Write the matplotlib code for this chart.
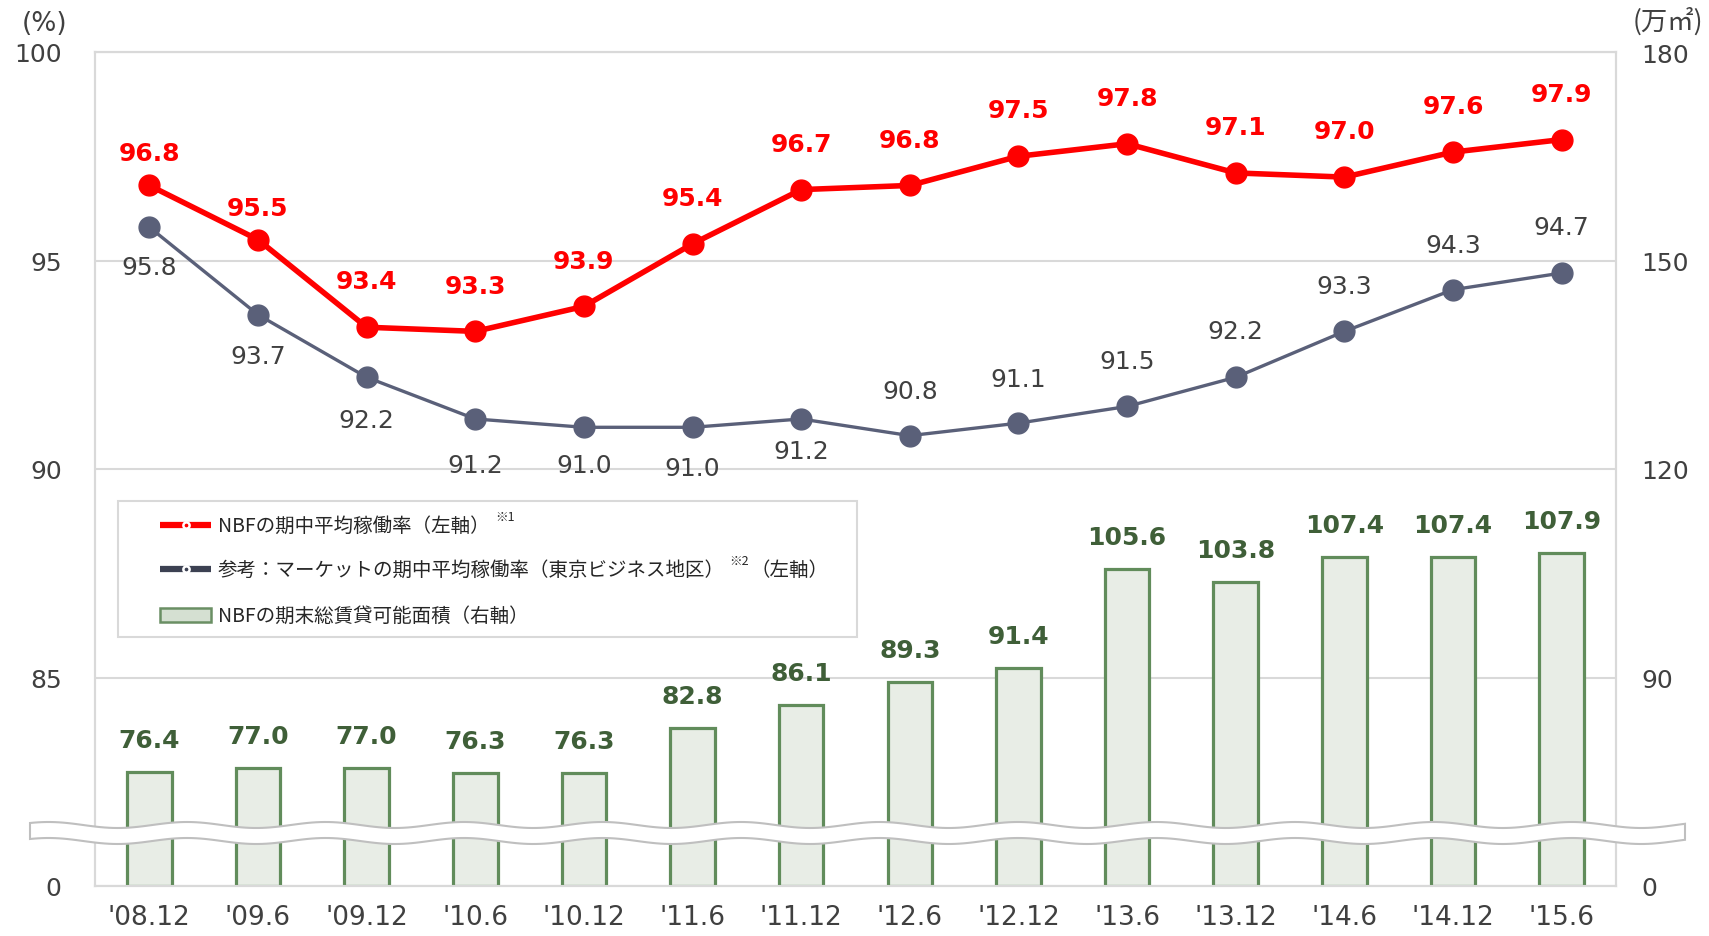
import numpy as np
import matplotlib
matplotlib.use('Agg')
import matplotlib.pyplot as plt
from matplotlib.patches import Rectangle, Polygon

plt.rcParams['font.family'] = ['DejaVu Sans', 'Noto Sans CJK JP']

# データ
periods = ["'08.12", "'09.6", "'09.12", "'10.6", "'10.12", "'11.6", "'11.12",
           "'12.6", "'12.12", "'13.6", "'13.12", "'14.6", "'14.12", "'15.6"]
nbf_rate = [96.8, 95.5, 93.4, 93.3, 93.9, 95.4, 96.7, 96.8, 97.5, 97.8, 97.1, 97.0, 97.6, 97.9]
market_rate = [95.8, 93.7, 92.2, 91.2, 91.0, 91.0, 91.2, 90.8, 91.1, 91.5, 92.2, 93.3, 94.3, 94.7]
area = [76.4, 77.0, 77.0, 76.3, 76.3, 82.8, 86.1, 89.3, 91.4, 105.6, 103.8, 107.4, 107.4, 107.9]

left_ticks = [80, 85, 90, 95, 100]
left_labels = ['0', '85', '90', '95', '100']
right_ticks = [60, 90, 120, 150, 180]
right_labels = ['0', '90', '120', '150', '180']

# ラベルのずらし量（pt）
nbf_off = [23, 23, 33, 33, 33, 33, 33, 33, 33, 33, 33, 33, 33, 33]
market_off = [-29, -30, -31, -33, -27, -29, -23, 32, 32, 33, 33, 33, 32, 33]

RED = '#ff0000'
GRAY = '#5a6079'
GREEN_EDGE = '#618c5b'
GREEN_FILL = '#e8ede6'
GREEN_TXT = '#3f5f38'
TXT = '#404040'
FRAME = '#d9d9d9'

W, H = 1709, 937
fig = plt.figure(figsize=(W / 100, H / 100), dpi=100)
ax2 = fig.add_axes([95 / W, 1 - 887 / H, (1616 - 95) / W, (887 - 53) / H])
ax = ax2.twinx()
ax.set_zorder(ax2.get_zorder() + 1)
ax.patch.set_visible(False)

x = np.arange(len(periods))

# 棒グラフ（右軸）
base = right_ticks[0]
ax2.bar(x, np.array(area) - base, bottom=base, width=0.41, color=GREEN_FILL,
        edgecolor=GREEN_EDGE, linewidth=2.3, zorder=3)
for xi, v in zip(x, area):
    ax2.annotate(f'{v:.1f}', (xi, v), xytext=(0, 23), textcoords='offset points',
                 ha='center', va='center', fontsize=18, fontweight='bold', color=GREEN_TXT)
ax2.set_ylim(right_ticks[0], right_ticks[-1])
ax2.set_yticks(right_ticks)
ax2.set_yticklabels(right_labels)
ax2.yaxis.tick_right()
ax2.grid(axis='y', color=FRAME, linewidth=1.5, zorder=0)
ax2.set_axisbelow(True)

# 折れ線（左軸）
ax.plot(x, market_rate, color=GRAY, linewidth=2.4, marker='o', markersize=15, zorder=4)
ax.plot(x, nbf_rate, color=RED, linewidth=4, marker='o', markersize=15, zorder=5)
for xi, v, o in zip(x, nbf_rate, nbf_off):
    ax.annotate(f'{v:.1f}', (xi, v), xytext=(0, o), textcoords='offset points',
                ha='center', va='center', fontsize=18, fontweight='bold', color=RED)
for xi, v, o in zip(x, market_rate, market_off):
    ax.annotate(f'{v:.1f}', (xi, v), xytext=(0, o), textcoords='offset points',
                ha='center', va='center', fontsize=18, color=TXT)
ax.set_ylim(left_ticks[0], left_ticks[-1])
ax.set_yticks(left_ticks)
ax.set_yticklabels(left_labels)
ax.yaxis.tick_left()
ax.set_xlim(-0.5, len(periods) - 0.5)
ax2.set_xticks(x)
ax2.set_xticklabels(periods)

for a in (ax, ax2):
    for s in a.spines.values():
        s.set_color(FRAME)
        s.set_linewidth(1.5)
ax.tick_params(axis='y', length=0, pad=24, labelsize=18, labelcolor=TXT)
ax2.tick_params(axis='y', length=0, pad=18, labelsize=18, labelcolor=TXT)
ax2.tick_params(axis='x', length=0, pad=13, labelsize=19, labelcolor=TXT)
ax.tick_params(axis='x', length=0, labelbottom=False)

fig.text(45 / W, 1 - 24 / H, '(%)', ha='center', va='center', fontsize=19, color=TXT)
fig.text(1668 / W, 1 - 22 / H, '(万㎡)', ha='center', va='center', fontsize=19, color=TXT,
         family=['Noto Sans CJK JP', 'DejaVu Sans'])

# 波線（軸の省略）
xs = np.linspace(30, 1685, 400)
ytop = 826 - 3 * np.cos(2 * np.pi * (xs - 187) / 138.5)
ybot = ytop + 16
pts = np.concatenate([np.column_stack([xs, ytop]), np.column_stack([xs[::-1], ybot[::-1]])])
pts[:, 0] /= W
pts[:, 1] = 1 - pts[:, 1] / H
ax.add_patch(Polygon(pts, closed=True, facecolor='white', edgecolor='#bfbfbf', linewidth=1.5,
                     transform=fig.transFigure, clip_on=False, zorder=10))

# 凡例
def fx(px):
    return (px - 95) / (1616 - 95)

def fy(py):
    return (887 - py) / (887 - 53)

ax.add_patch(Rectangle((fx(118), fy(638)), fx(857) - fx(118), fy(502) - fy(638),
                       transform=ax.transAxes, facecolor='white', edgecolor=FRAME,
                       linewidth=1.5, zorder=11))
jp = ['Noto Sans CJK JP', 'DejaVu Sans']
rows = [526, 570, 616]
for col, yy in zip([RED, '#3c4152'], rows[:2]):
    ax.plot([fx(160), fx(211)], [fy(yy), fy(yy)], transform=ax.transAxes, color=col,
            linewidth=4.5, zorder=12, solid_capstyle='butt')
    ax.plot([fx(185.5)], [fy(yy)], transform=ax.transAxes, color=col, marker='o',
            markersize=4.5, markeredgecolor='white', markeredgewidth=1.8, zorder=13)
ax.add_patch(Rectangle((fx(160), fy(rows[2] + 7)), fx(211) - fx(160), fy(rows[2] - 7) - fy(rows[2] + 7),
                       transform=ax.transAxes, facecolor='#d5e0d2', edgecolor='#6a8f64',
                       linewidth=1.8, zorder=12))

fig.canvas.draw()
renderer = fig.canvas.get_renderer()
inv = ax.transAxes.inverted()


def put(xa, ya, s, size=14, sup=False):
    t = ax.text(xa, ya + (0.01 if sup else 0), s, transform=ax.transAxes, ha='left', va='center',
                fontsize=size, color='#262626', family=jp, zorder=13)
    bb = t.get_window_extent(renderer)
    return inv.transform((bb.x1, bb.y1))[0]


xe = put(fx(218), fy(rows[0]), 'NBFの期中平均稼働率（左軸）')
put(xe + 0.004, fy(rows[0]), '※1', size=9, sup=True)
xe = put(fx(218), fy(rows[1]), '参考：マーケットの期中平均稼働率（東京ビジネス地区）')
xe = put(xe + 0.003, fy(rows[1]), '※2', size=9, sup=True)
put(xe + 0.001, fy(rows[1]), '（左軸）')
put(fx(218), fy(rows[2]), 'NBFの期末総賃貸可能面積（右軸）')

fig.savefig('out.png', dpi=100)
